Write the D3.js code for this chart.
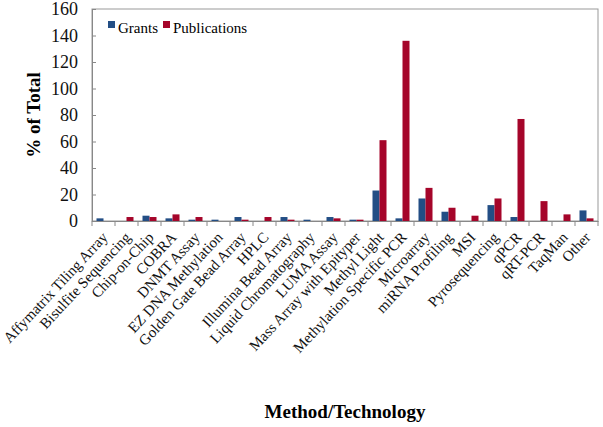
<!DOCTYPE html>
<html>
<head>
<meta charset="utf-8">
<script src="https://cdn.jsdelivr.net/npm/d3@7"></script>
<style>
  body { margin: 0; background: #fff; }
  svg, svg text { font-family: 'Liberation Serif', 'Times New Roman', serif; }
</style>
</head>
<body>
<svg width="603" height="427"></svg>
<script>
    const categories = ['Affymatrix Tiling Array', 'Bisulfite Sequencing', 'Chip-on-Chip', 'COBRA',
      'DNMT Assay', 'EZ DNA Methylation', 'Golden Gate Bead Array', 'HPLC', 'Illumina Bead Array',
      'Liquid Chromatography', 'LUMA Assay', 'Mass Array with Epityper', 'Methyl Light',
      'Methylation Specific PCR', 'Microarray', 'miRNA Profiling', 'MSI', 'Pyrosequencing',
      'qPCR', 'qRT-PCR', 'TaqMan', 'Other'];
    const grants = [2, 0, 4, 2, 1, 1, 3, 0, 3, 1, 3, 1, 23, 2, 17, 7, 0, 12, 3, 0, 0, 8];
    const publications = [0, 3, 3, 5, 3, 0, 1, 3, 1, 0, 2, 1, 61, 136, 25, 10, 4, 17, 77, 15, 5, 2];
    const seriesNames = ['Grants', 'Publications'];
    const yTicks = [0, 20, 40, 60, 80, 100, 120, 140, 160];

    const colors = ['#234e85', '#a5052a'];
    const serif = "'Liberation Serif', 'Times New Roman', serif";
    const svg = d3.select('svg');
    const margin = { top: 9, right: 5, bottom: 206, left: 92 };
    const width = 603 - margin.left - margin.right;
    const height = 427 - margin.top - margin.bottom;

    const g = svg.append('g')
      .attr('transform', 'translate(' + margin.left + ',' + margin.top + ')');

    // scales
    const xScale = d3.scaleBand()
      .domain(categories)
      .range([0, width]);
    const xInner = d3.scaleBand()
      .domain(seriesNames)
      .range([4.5, xScale.bandwidth() - 4.5]);
    const yScale = d3.scaleLinear()
      .domain([0, 160])
      .range([height, 0]);

    // frame
    g.append('rect')
      .attr('width', width)
      .attr('height', height)
      .style('fill', 'none')
      .style('stroke', '#999')
      .style('stroke-width', 1);

    // bars
    const data = categories.map(function(c, i) {
      return { cat: c, vals: [grants[i], publications[i]] };
    });
    const groups = g.selectAll('.grp').data(data).enter().append('g')
      .attr('transform', function(d) { return 'translate(' + xScale(d.cat) + ',0)'; });
    groups.selectAll('rect')
      .data(function(d) { return d.vals.map(function(v, j) { return { s: seriesNames[j], v: v, j: j }; }); })
      .enter().append('rect')
      .attr('x', function(d) { return xInner(d.s); })
      .attr('width', xInner.bandwidth())
      .attr('y', function(d) { return yScale(d.v); })
      .attr('height', function(d) { return height - yScale(d.v); })
      .style('fill', function(d) { return colors[d.j]; });

    // y axis (ticks point inward)
    const yAxis = d3.axisLeft(yScale).tickValues(yTicks).tickSize(-4).tickPadding(14);
    const gY = g.append('g').call(yAxis).attr('font-family', serif);
    gY.select('.domain').attr('stroke', '#888');
    gY.selectAll('line').attr('stroke', '#888');
    gY.selectAll('text')
      .style('font-size', '18px')
      .style('font-family', serif)
      .style('fill', '#111');

    // x axis
    const xAxis = d3.axisBottom(xScale).tickSize(0).tickFormat('');
    const gX = g.append('g')
      .attr('transform', 'translate(0,' + height + ')')
      .call(xAxis)
      .attr('font-family', serif);
    gX.select('.domain').attr('stroke', '#888');
    gX.selectAll('.tick').remove();
    gX.selectAll('.sep')
      .data(categories.map(function(c) { return xScale(c); }).concat([width]))
      .enter().append('line')
      .attr('x1', function(d) { return d; })
      .attr('x2', function(d) { return d; })
      .attr('y1', 0)
      .attr('y2', 5)
      .attr('stroke', '#888');
    gX.selectAll('.lbl')
      .data(categories)
      .enter().append('text')
      .attr('transform', function(d) {
        return 'translate(' + (xScale(d) + xScale.bandwidth() / 2 + 5) + ',17) rotate(-47)';
      })
      .attr('text-anchor', 'end')
      .style('font-size', '15px')
      .style('fill', '#111')
      .text(function(d) { return d; });

    // axis titles
    svg.append('text')
      .attr('transform', 'translate(40,' + (margin.top + height / 2) + ') rotate(-90)')
      .attr('text-anchor', 'middle')
      .style('font-size', '19px')
      .style('font-weight', 'bold')
      .text('% of Total');
    svg.append('text')
      .attr('x', 345)
      .attr('y', 418)
      .attr('text-anchor', 'middle')
      .style('font-size', '19px')
      .style('font-weight', 'bold')
      .text('Method/Technology');

    // legend
    const legend = g.append('g').attr('transform', 'translate(16,18)');
    const items = legend.selectAll('g').data(seriesNames).enter().append('g')
      .attr('transform', function(d, i) { return 'translate(' + (i === 0 ? 0 : 55) + ',0)'; });
    items.append('rect')
      .attr('x', 0).attr('y', -6)
      .attr('width', 7).attr('height', 7)
      .style('fill', function(d, i) { return colors[i]; });
    items.append('text')
      .attr('x', 10).attr('y', 1.5)
      .attr('dy', '0.3em')
      .style('font-size', '15px')
      .text(function(d) { return d; });
</script>
</body>
</html>
